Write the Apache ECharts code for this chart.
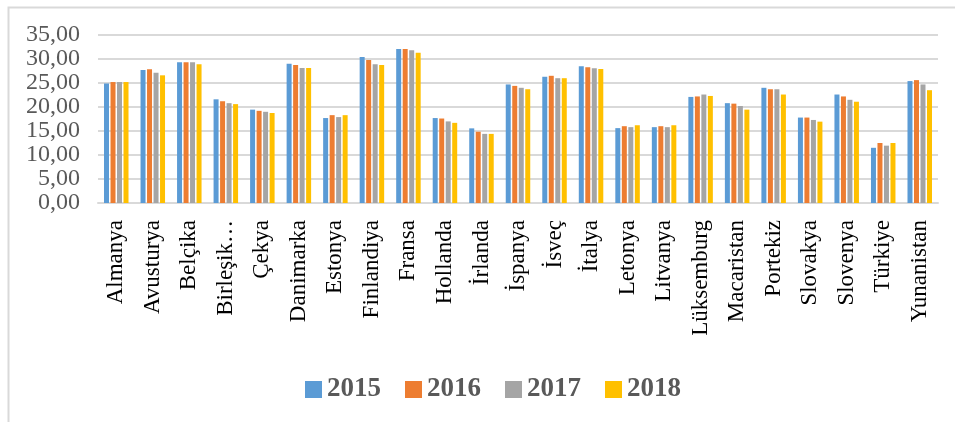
<!DOCTYPE html>
<html>
<head>
<meta charset="utf-8">
<script src="https://cdn.jsdelivr.net/npm/echarts@6/dist/echarts.min.js"></script>
<style>
  html, body { margin: 0; padding: 0; background: #fff; }
  #chart { width: 955px; height: 422px; }
</style>
</head>
<body>
<div id="chart"></div>
<script>
// ülkeler
const countries = ['Almanya', 'Avusturya', 'Belçika', 'Birleşik…', 'Çekya', 'Danimarka', 'Estonya',
  'Finlandiya', 'Fransa', 'Hollanda', 'İrlanda', 'İspanya', 'İsveç', 'İtalya', 'Letonya', 'Litvanya',
  'Lüksemburg', 'Macaristan', 'Portekiz', 'Slovakya', 'Slovenya', 'Türkiye', 'Yunanistan']

const years = ['2015', '2016', '2017', '2018']

const values2015 = [24.9, 27.7, 29.3, 21.6, 19.45, 29.0, 17.7, 30.4, 32.1, 17.7, 15.55, 24.7, 26.3, 28.5, 15.6, 15.8, 22.1, 20.8, 24.0, 17.8, 22.6, 11.5, 25.4]
const values2016 = [25.2, 27.85, 29.3, 21.2, 19.2, 28.75, 18.3, 29.8, 32.1, 17.6, 14.85, 24.4, 26.5, 28.3, 16.0, 16.0, 22.2, 20.7, 23.7, 17.8, 22.2, 12.5, 25.6]
const values2017 = [25.2, 27.15, 29.3, 20.8, 19.0, 28.1, 17.9, 28.9, 31.8, 17.0, 14.4, 24.0, 26.0, 28.05, 15.8, 15.8, 22.6, 20.2, 23.7, 17.3, 21.5, 11.95, 24.7]
const values2018 = [25.2, 26.6, 28.9, 20.6, 18.75, 28.1, 18.3, 28.75, 31.3, 16.7, 14.4, 23.7, 26.0, 27.9, 16.2, 16.2, 22.3, 19.45, 22.6, 16.95, 21.1, 12.5, 23.5]

const colors = ['#5B9BD5', '#ED7D31', '#A5A5A5', '#FFC000']
const allValues = [values2015, values2016, values2017, values2018]

const chart = echarts.init(document.getElementById('chart'))

// seriler
const series = years.map((y, i) => ({
  name: y,
  type: 'bar',
  data: allValues[i],
  barWidth: 5,
  barGap: '30%',
  itemStyle: { color: colors[i] }
}))

chart.setOption({
  animation: false,
  color: colors,
  // dış çerçeve
  graphic: [{
    type: 'rect',
    left: 6, top: 5,
    shape: { width: 1000, height: 500 },
    style: { fill: 'none', stroke: '#d9d9d9', lineWidth: 2 },
    silent: true
  }],
  grid: { left: 98, right: 17, top: 35, bottom: 219 },
  legend: {
    data: years,
    left: 300,
    top: 371,
    icon: 'rect',
    itemWidth: 17,
    itemHeight: 17,
    itemGap: 24,
    textStyle: {
      fontFamily: 'Liberation Serif',
      fontWeight: 'bold',
      fontSize: 27,
      color: '#595959'
    }
  },
  xAxis: {
    type: 'category',
    data: countries,
    axisLine: { lineStyle: { color: '#d9d9d9', width: 2 } },
    axisTick: { show: false },
    axisLabel: {
      rotate: 90,
      interval: 0,
      margin: 17,
      fontFamily: 'Liberation Serif',
      fontSize: 23,
      color: '#000'
    }
  },
  yAxis: {
    type: 'value',
    min: 0,
    max: 35,
    interval: 5,
    axisLine: { show: false },
    axisTick: { show: false },
    splitLine: { lineStyle: { color: '#d9d9d9', width: 2 } },
    axisLabel: {
      margin: 18,
      fontFamily: 'Liberation Serif',
      fontSize: 24,
      color: '#595959',
      formatter: v => v.toFixed(2).replace('.', ',')
    }
  },
  series: series
})
</script>
</body>
</html>
